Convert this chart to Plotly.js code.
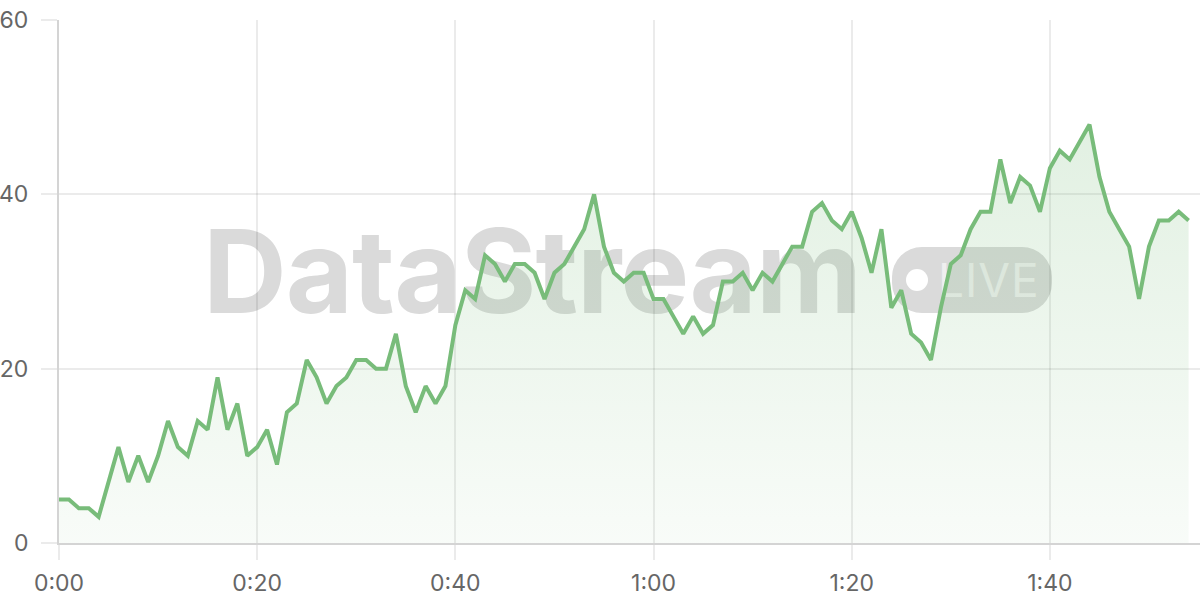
<!DOCTYPE html>
<html>
<head>
<meta charset="utf-8">
<script src="https://cdn.plot.ly/plotly-3.0.1.min.js"></script>
<style>
  html, body { margin: 0; padding: 0; background: #ffffff; }
  #wrap { position: relative; width: 1200px; height: 600px; overflow: hidden; }
  #wm { position: absolute; left: 0; top: 0; width: 1200px; height: 600px; z-index: 0; pointer-events: none; }
  #wm .brand { position: absolute; left: 203px; top: 201px; font-family: "Inter", sans-serif; font-weight: 700; font-size: 116px; line-height: 140px; color: #dadada; letter-spacing: -1px; white-space: nowrap; }
  #wm .pill { position: absolute; left: 892px; top: 247px; width: 160px; height: 66px; border-radius: 30px; background: #dadada; }
  #wm .dot { position: absolute; left: 14px; top: 22px; width: 22px; height: 22px; border-radius: 50%; background: #ffffff; }
  #wm .live { position: absolute; left: 46px; top: 0px; font-family: "Inter", sans-serif; font-weight: 400; font-size: 46px; line-height: 66px; color: #efefef; letter-spacing: 1px; }
  #chart { position: absolute; left: 0; top: 0; width: 1200px; height: 600px; z-index: 1; }
</style>
</head>
<body>
<div id="wrap">
  <div id="wm">
    <div class="brand">DataStream</div>
    <div class="pill"><div class="dot"></div><div class="live">LIVE</div></div>
  </div>
  <div id="chart"></div>
</div>
<script>
// elapsed seconds
const seconds = [0,1,2,3,4,5,6,7,8,9,10,11,12,13,14,15,16,17,18,19,20,21,22,23,24,25,26,27,28,29,30,31,32,33,34,35,36,37,38,39,40,41,42,43,44,45,46,47,48,49,50,51,52,53,54,55,56,57,58,59,60,61,62,63,64,65,66,67,68,69,70,71,72,73,74,75,76,77,78,79,80,81,82,83,84,85,86,87,88,89,90,91,92,93,94,95,96,97,98,99,100,101,102,103,104,105,106,107,108,109,110,111,112,113,114];
// series values
const values = [5,5,4,4,3,7,11,7,10,7,10,14,11,10,14,13,19,13,16,10,
                11,13,9,15,16,21,19,16,18,19,21,21,20,20,24,18,15,18,16,18,
                25,29,28,33,32,30,32,32,31,28,31,32,34,36,40,34,31,30,31,31,
                28,28,26,24,26,24,25,30,30,31,29,31,30,32,34,34,38,39,37,36,
                38,35,31,36,27,29,24,23,21,27,32,33,36,38,38,44,39,42,41,38,
                43,45,44,46,48,42,38,36,34,28,34,37,37,38,37];
// tick labels
const xTickVals = [0,20,40,60,80,100];
const xTickText = ['0:00','0:20','0:40','1:00','1:20','1:40'];
const yTickVals = [0,20,40,60];

const green = 'rgb(120,188,122)';

const trace = {
  x: seconds,
  y: values,
  type: 'scatter',
  mode: 'lines',
  line: { color: green, width: 4, shape: 'linear' },
  fill: 'tozeroy',
  fillgradient: {
    type: 'vertical',
    start: 0,
    stop: 60,
    colorscale: [[0, 'rgba(120,188,122,0.05)'], [1, 'rgba(120,188,122,0.26)']]
  },
  hoverinfo: 'x+y'
};

const layout = {
  width: 1200,
  height: 600,
  margin: { l: 59, r: 0, t: 20, b: 57 },
  paper_bgcolor: 'rgba(0,0,0,0)',
  plot_bgcolor: 'rgba(0,0,0,0)',
  showlegend: false,
  font: { family: 'Inter, "Open Sans", sans-serif', size: 23, color: '#666666' },
  xaxis: {
    range: [0, 115.15],
    tickvals: xTickVals,
    ticktext: xTickText,
    showgrid: true,
    gridcolor: 'rgba(0,0,0,0.08)',
    gridwidth: 2,
    zeroline: false,
    showline: true,
    linecolor: 'rgba(0,0,0,0.17)',
    linewidth: 2,
    ticks: 'outside',
    ticklen: 15,
    tickwidth: 2,
    tickcolor: 'rgba(0,0,0,0.08)',
    ticklabelstandoff: 3,
    tickfont: { family: 'Inter, sans-serif', size: 23, color: '#666666' },
    fixedrange: true
  },
  yaxis: {
    range: [0, 60],
    tickvals: yTickVals,
    showgrid: true,
    gridcolor: 'rgba(0,0,0,0.08)',
    gridwidth: 2,
    zeroline: false,
    showline: true,
    linecolor: 'rgba(0,0,0,0.17)',
    linewidth: 2,
    ticks: 'outside',
    ticklen: 16,
    tickwidth: 2,
    tickcolor: 'rgba(0,0,0,0.08)',
    ticklabelstandoff: 8,
    tickfont: { family: 'Inter, sans-serif', size: 23, color: '#666666' },
    fixedrange: true
  }
};

Plotly.newPlot('chart', [trace], layout, { displayModeBar: false, staticPlot: true });
</script>
</body>
</html>
